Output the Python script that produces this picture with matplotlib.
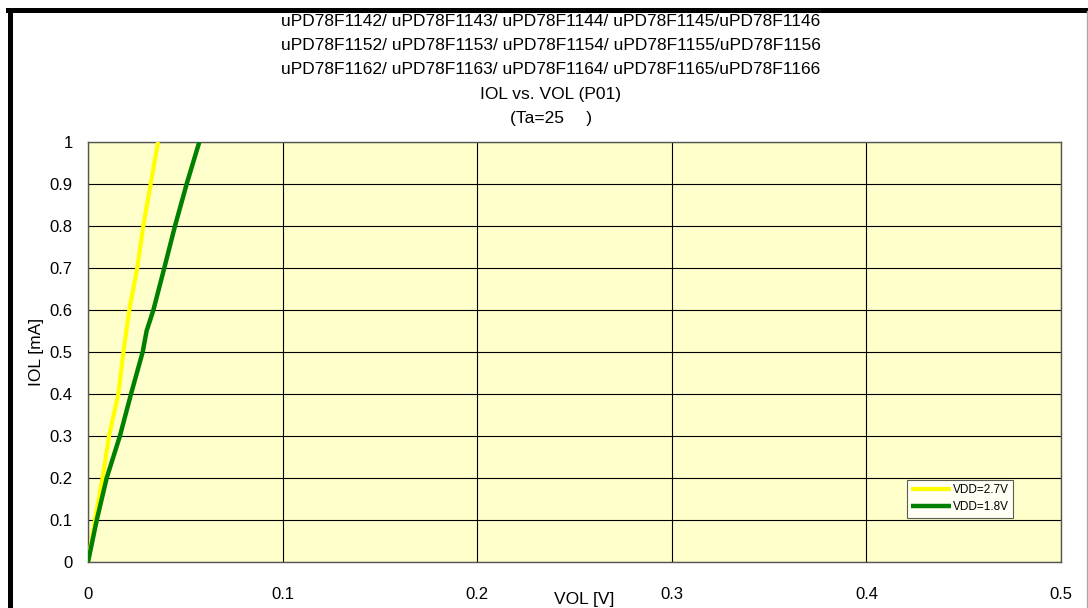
import matplotlib
matplotlib.use("Agg")
import matplotlib.pyplot as plt
from matplotlib.lines import Line2D

plt.rcParams['font.family'] = ['Liberation Sans', 'DejaVu Sans']

# Data
iol_27 = [0.0, 0.1, 0.2, 0.3, 0.4, 0.5, 0.6, 0.7, 0.8, 0.9, 1.0]
vol_27 = [0.0, 0.0036, 0.0075, 0.0108, 0.0156, 0.0182, 0.0212, 0.0253, 0.0284, 0.0322, 0.0360]
iol_18 = [0.0, 0.1, 0.2, 0.3, 0.4, 0.5, 0.55, 0.6, 0.7, 0.8, 0.9, 1.0]
vol_18 = [0.0, 0.0045, 0.0096, 0.0164, 0.0221, 0.0281, 0.0301, 0.0336, 0.0392, 0.0447, 0.0507, 0.0572]

x_ticks = [0, 0.1, 0.2, 0.3, 0.4, 0.5]
x_ticklabels = ['0', '0.1', '0.2', '0.3', '0.4', '0.5']
y_ticks = [0, 0.1, 0.2, 0.3, 0.4, 0.5, 0.6, 0.7, 0.8, 0.9, 1.0]
y_ticklabels = ['0', '0.1', '0.2', '0.3', '0.4', '0.5', '0.6', '0.7', '0.8', '0.9', '1']

title_lines = [
    "uPD78F1142/ uPD78F1143/ uPD78F1144/ uPD78F1145/uPD78F1146",
    "uPD78F1152/ uPD78F1153/ uPD78F1154/ uPD78F1155/uPD78F1156",
    "uPD78F1162/ uPD78F1163/ uPD78F1164/ uPD78F1165/uPD78F1166",
    "IOL vs. VOL (P01)",
    "(Ta=25\u2003 )",
]

W, H = 1088, 608
fig = plt.figure(figsize=(W / 100, H / 100), dpi=100)
fig.patch.set_facecolor('white')

ax = fig.add_axes([88 / W, 1 - 562 / H, (1061 - 88) / W, (562 - 142) / H])
ax.set_facecolor('#FFFFCC')

ax.plot(vol_27, iol_27, color='#FFFF00', lw=3.0, label='VDD=2.7V', solid_capstyle='butt', zorder=3)
ax.plot(vol_18, iol_18, color='#008000', lw=3.2, label='VDD=1.8V', solid_capstyle='butt', zorder=4)

ax.set_xlim(0, 0.5)
ax.set_ylim(0, 1)
ax.set_xticks(x_ticks)
ax.set_xticklabels(x_ticklabels)
ax.set_yticks(y_ticks)
ax.set_yticklabels(y_ticklabels)
ax.tick_params(axis='both', length=0, labelsize=12, colors='black')
ax.tick_params(axis='x', pad=18)
ax.tick_params(axis='y', pad=11)
ax.grid(True, color='black', lw=0.8, zorder=1)
ax.set_axisbelow(True)
for s in ax.spines.values():
    s.set_color('#555555')
    s.set_linewidth(1.0)

ax.set_xlabel('VOL [V]', fontsize=12.5)
ax.xaxis.set_label_coords((584 - 88) / (1061 - 88), -(592 - 562) / (562 - 142))
ax.set_ylabel('IOL [mA]', fontsize=12.5)
ax.yaxis.set_label_coords(-(88 - 44) / (1061 - 88), 0.5)

leg = ax.legend(loc='upper left', bbox_to_anchor=((907 - 88) / (1061 - 88), 1 - (480 - 142) / (562 - 142)),
                fontsize=8.5, frameon=True, fancybox=False, handlelength=3.4, handletextpad=0.15,
                borderpad=0.35, labelspacing=0.45, borderaxespad=0)
leg.get_frame().set_edgecolor('#333333')
leg.get_frame().set_linewidth(0.8)
leg.get_frame().set_facecolor('white')

for i, t in enumerate(title_lines):
    fig.text(551 / W, 1 - (22 + 24 * i) / H, t, ha='center', va='center', fontsize=12.5)

# figure border (thick black left/top, thin gray right)
fig.add_artist(Line2D([9.5 / W, 9.5 / W], [0, 1 - 9.5 / H], color='black', lw=3.6, transform=fig.transFigure))
fig.add_artist(Line2D([7.5 / W, 1], [1 - 9.5 / H, 1 - 9.5 / H], color='black', lw=3.6, transform=fig.transFigure))
fig.add_artist(Line2D([1087 / W, 1087 / W], [0, 1 - 11 / H], color='#AAAAAA', lw=1.0, transform=fig.transFigure))

fig.savefig('out.png', dpi=100)
